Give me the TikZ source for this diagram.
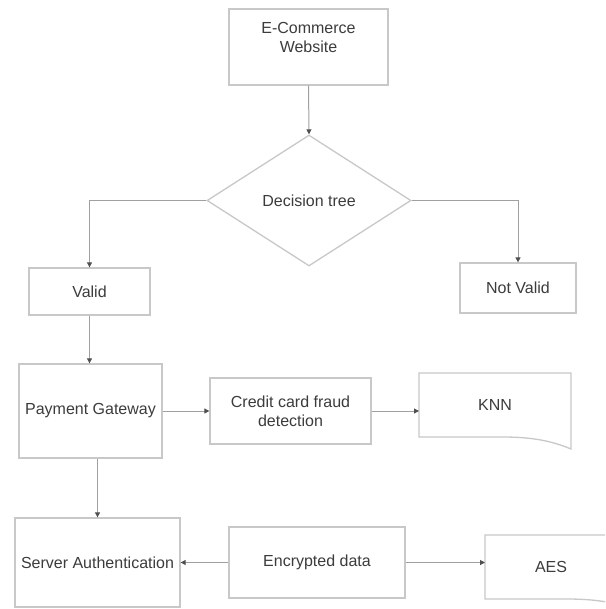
\documentclass[tikz,border=0pt]{standalone}
\usepackage{fontspec}
\setmainfont{Liberation Sans}
\usetikzlibrary{shapes.geometric,arrows.meta}
\definecolor{boxc}{HTML}{C8C8C8}
\definecolor{linec}{HTML}{A0A0A0}
\definecolor{tipc}{HTML}{505050}
\definecolor{txtc}{HTML}{3C3C3C}
\tikzset{
  boxnode/.style={draw=boxc, line width=1.3pt, rectangle, inner sep=0pt, align=center, text=txtc, font=\fontsize{16}{19}\selectfont},
  textonly/.style={inner sep=0pt, align=center, text=txtc, font=\fontsize{16}{19}\selectfont},
  conn/.style={draw=linec, line width=1pt, -{Triangle[length=5pt,width=5pt,color=tipc]}},
  shapeline/.style={draw=boxc, line width=1.3pt}
}
\begin{document}
\begin{tikzpicture}[x=1pt,y=-1pt]
\useasboundingbox (0,0) rectangle (605,609);
\clip (0,0) rectangle (605,609);
\fill[white] (0,0) rectangle (605,609);
% boxes
\node[boxnode, minimum width=159pt, minimum height=76pt] (ecom) at (308.5,47) {E-Commerce\\Website\\\mbox{}};
\node[boxnode, shape=diamond, minimum width=204pt, minimum height=131pt] (dt) at (309,200.5) {Decision tree};
\node[boxnode, minimum width=121pt, minimum height=47pt] (valid) at (89.5,291.5) {Valid};
\node[boxnode, minimum width=116pt, minimum height=50pt] (nvalid) at (518,288) {Not Valid};
\node[boxnode, minimum width=143pt, minimum height=94pt] (pay) at (90.5,411) {Payment Gateway};
\node[boxnode, minimum width=161pt, minimum height=66pt] (ccfd) at (290.5,411) {Credit card fraud\\detection};
\node[boxnode, minimum width=165pt, minimum height=89pt] (srv) at (97.5,562.5) {Server Authentication};
\node[boxnode, minimum width=176pt, minimum height=71pt] (enc) at (317,562.5) {Encrypted data};
% KNN document-like shape
\draw[shapeline] (503,437) -- (419,437) -- (419,373) -- (571,373) -- (571,449)
  .. controls (552,441) and (532,437) .. (503,437);
\node[textonly, minimum width=152pt, minimum height=64pt] (knn) at (495,405) {KNN};
% AES document-like shape (cut by the right edge)
\draw[shapeline] (567,599) -- (485,599) -- (485,535) -- (637,535) -- (637,611)
  .. controls (618,603) and (598,599) .. (567,599);
\node[textonly, minimum width=132pt, minimum height=64pt] (aes) at (551,567) {AES};
\coordinate (knnw) at (419,411);
\coordinate (aesw) at (485,562.5);
% connectors
\draw[conn] (ecom.south) -- (dt.north);
\draw[conn] (dt.west) -| (valid.north);
\draw[conn] (dt.east) -| (nvalid.north);
\draw[conn] (valid.south) -- (valid.south |- pay.north);
\draw[conn] (pay.east |- ccfd.west) -- (ccfd.west);
\draw[conn] (ccfd.east) -- (knnw);
\draw[conn] (srv.north |- pay.south) -- (srv.north);
\draw[conn] (enc.west) -- (srv.east);
\draw[conn] (enc.east) -- (aesw);
\end{tikzpicture}
\end{document}
